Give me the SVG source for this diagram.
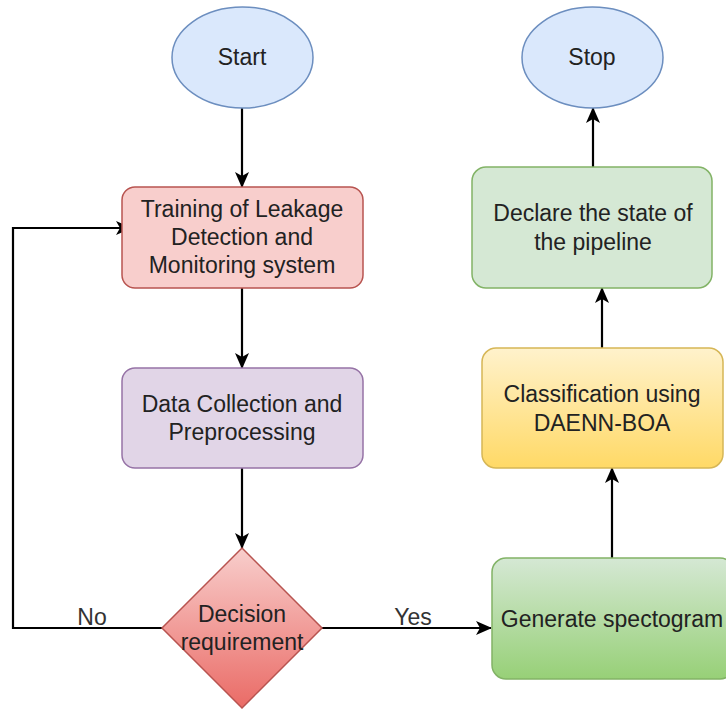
<svg xmlns="http://www.w3.org/2000/svg" width="726" height="711" viewBox="0 0 726 711">
<defs>
<marker id="arr" markerUnits="userSpaceOnUse" markerWidth="16" markerHeight="14" viewBox="0 0 16 14" refX="15" refY="7" orient="auto">
<path d="M0,0 L16,7 L0,14 L4,7 Z" fill="#000"/>
</marker>
<linearGradient id="gRed" x1="0" y1="0" x2="0" y2="1"><stop offset="0" stop-color="#f8cecc"/><stop offset="1" stop-color="#ea6b66"/></linearGradient>
<linearGradient id="gGreen" x1="0" y1="0" x2="0" y2="1"><stop offset="0" stop-color="#d5e8d4"/><stop offset="1" stop-color="#97d077"/></linearGradient>
<linearGradient id="gYellow" x1="0" y1="0" x2="0" y2="1"><stop offset="0" stop-color="#fff2cc"/><stop offset="1" stop-color="#ffd966"/></linearGradient>
</defs>
<style>
text{font-family:"Liberation Sans",Arial,sans-serif;font-size:23px;fill:#222;text-anchor:middle}
.lbl{fill:#333}
.edge{fill:none;stroke:#000;stroke-width:2.2}
.blue{fill:#dae8fc;stroke:#6c8ebf;stroke-width:1.5}
.pink{fill:#f8cecc;stroke:#b85450;stroke-width:1.5}
.purple{fill:#e1d5e7;stroke:#9673a6;stroke-width:1.5}
.green{fill:#d5e8d4;stroke:#82b366;stroke-width:1.5}
</style>
<rect width="726" height="711" fill="#fff"/>
<g id="connectors">
<path class="edge" d="M242,108 V187" marker-end="url(#arr)"/>
<path class="edge" d="M242,288 V368" marker-end="url(#arr)"/>
<path class="edge" d="M242,468 V548" marker-end="url(#arr)"/>
<path class="edge" d="M162,628 H13 V228 H131" marker-end="url(#arr)"/>
<path class="edge" d="M322,628 H491" marker-end="url(#arr)"/>
<path class="edge" d="M612,558 V468" marker-end="url(#arr)"/>
<path class="edge" d="M602,348 V288" marker-end="url(#arr)"/>
<path class="edge" d="M593,167 V108" marker-end="url(#arr)"/>
<text class="lbl" x="92" y="625">No</text>
<text class="lbl" x="413" y="625">Yes</text>
</g>
<g id="start">
<ellipse class="blue" cx="242.5" cy="57.5" rx="70.5" ry="50.5"/>
<text x="242" y="65">Start</text>
</g>
<g id="training">
<rect class="pink" x="122" y="187" width="241" height="101" rx="13"/>
<text x="242" y="217">Training of Leakage</text>
<text x="242" y="245">Detection and</text>
<text x="242" y="273">Monitoring system</text>
</g>
<g id="data">
<rect class="purple" x="122" y="368" width="241" height="100" rx="13"/>
<text x="242" y="412">Data Collection and</text>
<text x="242" y="440">Preprocessing</text>
</g>
<g id="decision">
<path d="M242,548 L322,628 L242,708 L162,628 Z" fill="url(#gRed)" stroke="#b85450" stroke-width="1.5"/>
<text x="242" y="622">Decision</text>
<text x="242" y="650">requirement</text>
</g>
<g id="generate">
<rect x="492" y="558" width="242" height="121" rx="14" fill="url(#gGreen)" stroke="#82b366" stroke-width="1.5"/>
<text x="612" y="627">Generate spectogram</text>
</g>
<g id="classification">
<rect x="482" y="348" width="241" height="120" rx="14" fill="url(#gYellow)" stroke="#d6b656" stroke-width="1.5"/>
<text x="602" y="402">Classification using</text>
<text x="602" y="431">DAENN-BOA</text>
</g>
<g id="declare">
<rect class="green" x="472" y="167" width="240" height="121" rx="14"/>
<text x="593" y="221">Declare the state of</text>
<text x="593" y="250">the pipeline</text>
</g>
<g id="stop">
<ellipse class="blue" cx="592.5" cy="57.5" rx="70.5" ry="50.5"/>
<text x="592" y="65">Stop</text>
</g>
</svg>
